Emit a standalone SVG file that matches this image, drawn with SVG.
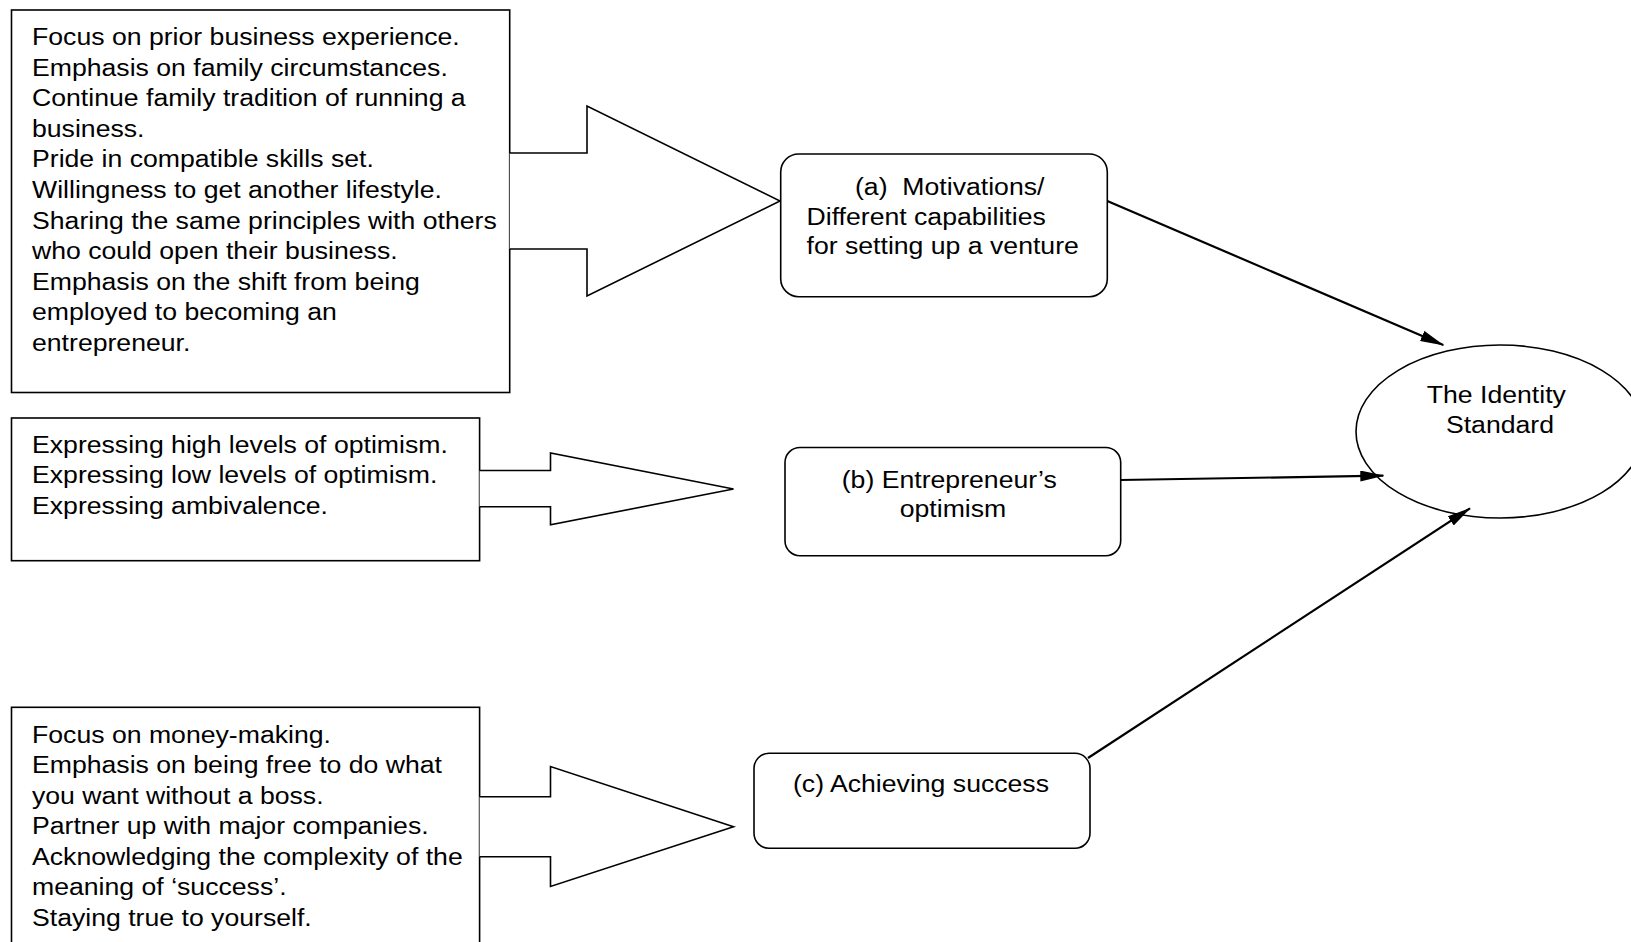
<svg xmlns="http://www.w3.org/2000/svg" width="1631" height="942" viewBox="0 0 1631 942">
  <style>
    .box { fill: #ffffff; stroke: #000000; stroke-width: 1.6; }
    .block { fill: #ffffff; stroke: #000000; stroke-width: 1.6; stroke-linejoin: miter; }
    .node { fill: #ffffff; stroke: #000000; stroke-width: 1.6; }
    .txt { font-family: "Liberation Sans", Arial, sans-serif; font-size: 23.3px; fill: #000000; }
    .mid { text-anchor: middle; }
    .pre { white-space: pre; }
    .edge { fill: none; stroke: #000000; stroke-width: 2.2; }
  </style>
  <defs>
    <marker id="head" viewBox="0 0 24 11" refX="23" refY="5.5" markerWidth="24" markerHeight="11" markerUnits="userSpaceOnUse" orient="auto">
      <path d="M0,0 L24,5.5 L0,11 Z" fill="#000000"/>
    </marker>
  </defs>

  <!-- (a) list of motivations feeding into the first construct -->
  <g id="list-a">
    <rect class="box" x="11.5" y="10" width="498.2" height="382.5"/>
    <polyline class="block" points="509.7,153 587,153 587,106 780,201 587,296 587,249 509.7,249"/>
    <text class="txt" transform="translate(32 45) scale(1.143 1)">
      <tspan x="0" y="0">Focus on prior business experience.</tspan>
      <tspan x="0" y="30.6">Emphasis on family circumstances.</tspan>
      <tspan x="0" y="61.2">Continue family tradition of running a</tspan>
      <tspan x="0" y="91.8">business.</tspan>
      <tspan x="0" y="122.4">Pride in compatible skills set.</tspan>
      <tspan x="0" y="153">Willingness to get another lifestyle.</tspan>
      <tspan x="0" y="183.6">Sharing the same principles with others</tspan>
      <tspan x="0" y="214.2">who could open their business.</tspan>
      <tspan x="0" y="244.8">Emphasis on the shift from being</tspan>
      <tspan x="0" y="275.4">employed to becoming an</tspan>
      <tspan x="0" y="306">entrepreneur.</tspan>
    </text>
  </g>

  <!-- (b) list of optimism expressions -->
  <g id="list-b">
    <rect class="box" x="11.5" y="418" width="468.1" height="142.7"/>
    <polyline class="block" points="479.6,470.5 550.5,470.5 550.5,453 733.5,489 550.5,524.8 550.5,506.7 479.6,506.7"/>
    <text class="txt" transform="translate(32 452.5) scale(1.143 1)">
      <tspan x="0" y="0">Expressing high levels of optimism.</tspan>
      <tspan x="0" y="30.8">Expressing low levels of optimism.</tspan>
      <tspan x="0" y="61.6">Expressing ambivalence.</tspan>
    </text>
  </g>

  <!-- (c) list of success meanings -->
  <g id="list-c">
    <rect class="box" x="11.5" y="707.3" width="468.1" height="260"/>
    <polyline class="block" points="479.6,796.7 550.5,796.7 550.5,766.5 733.5,826.7 550.5,886.5 550.5,856.8 479.6,856.8"/>
    <text class="txt" transform="translate(32 742.5) scale(1.143 1)">
      <tspan x="0" y="0">Focus on money-making.</tspan>
      <tspan x="0" y="30.6">Emphasis on being free to do what</tspan>
      <tspan x="0" y="61.2">you want without a boss.</tspan>
      <tspan x="0" y="91.8">Partner up with major companies.</tspan>
      <tspan x="0" y="122.4">Acknowledging the complexity of the</tspan>
      <tspan x="0" y="153">meaning of ‘success’.</tspan>
      <tspan x="0" y="183.6">Staying true to yourself.</tspan>
    </text>
  </g>

  <!-- constructs -->
  <g id="node-a">
    <rect class="node" x="780.7" y="154" width="326.6" height="142.7" rx="18" ry="18"/>
    <text class="txt pre" transform="translate(855 194.5) scale(1.143 1)">(a)  Motivations/</text>
    <text class="txt" transform="translate(806.5 224.5) scale(1.143 1)">
      <tspan x="0" y="0">Different capabilities</tspan>
      <tspan x="0" y="30">for setting up a venture</tspan>
    </text>
  </g>

  <g id="node-b">
    <rect class="node" x="785" y="447.5" width="335.7" height="108.3" rx="15" ry="15"/>
    <text class="txt mid" transform="translate(953 487.5) scale(1.143 1)">
      <tspan x="0" y="0">(b) Entrepreneur’s</tspan>
      <tspan x="0" y="30">optimism</tspan>
    </text>
  </g>

  <g id="node-c">
    <rect class="node" x="754" y="753.3" width="336" height="95" rx="15" ry="15"/>
    <text class="txt mid" transform="translate(921 791.5) scale(1.143 1)">(c) Achieving success</text>
  </g>

  <g id="identity-standard">
    <ellipse class="node" cx="1500" cy="431.5" rx="144" ry="86.5"/>
    <text class="txt mid" transform="translate(1500 403.3) scale(1.143 1)">
      <tspan x="0" y="0">The Identity</tspan>
      <tspan x="0" y="30">Standard</tspan>
    </text>
  </g>

  <!-- connectors into the identity standard -->
  <g id="connectors">
    <line class="edge" x1="1107.3" y1="201" x2="1443.3" y2="345" marker-end="url(#head)"/>
    <line class="edge" x1="1120.7" y1="480" x2="1383.3" y2="475.7" marker-end="url(#head)"/>
    <line class="edge" x1="1088" y1="758" x2="1470" y2="508.3" marker-end="url(#head)"/>
  </g>
</svg>
